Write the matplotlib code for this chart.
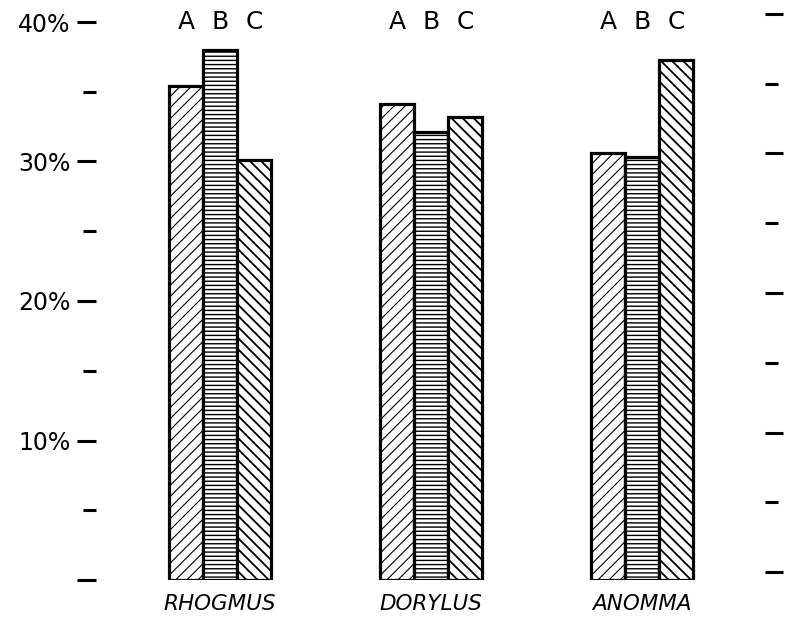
import matplotlib.pyplot as plt
from matplotlib.ticker import MultipleLocator, FixedFormatter, FixedLocator

genera = ['RHOGMUS', 'DORYLUS', 'ANOMMA']
castes = ['A', 'B', 'C']
values_a = [35.4, 34.1, 30.6]
values_b = [38.0, 32.1, 30.3]
values_c = [30.1, 33.2, 37.3]
major_ticks = [0, 10, 20, 30, 40]
major_labels = ['', '10%', '20%', '30%', '40%']

plt.rcParams['font.family'] = 'DejaVu Sans'

W, H = 786, 619
fig = plt.figure(figsize=(W / 100, H / 100), dpi=100)
left, right, bottom, top = 96, 765, 580, 22
ax = fig.add_axes([left / W, (H - bottom) / H, (right - left) / W, (bottom - top) / H])

width = 0.161
xs = list(range(len(genera)))
series = [values_a, values_b, values_c]
hatches = ['///', '----', '\\\\\\']
hatch_lw = [0.8, 1.0, 1.3]
for i, (vals, hatch) in enumerate(zip(series, hatches)):
    pos = [x + (i - 1) * width for x in xs]
    with plt.rc_context({'hatch.linewidth': hatch_lw[i]}):
        ax.bar(pos, vals, width=width, facecolor='white', edgecolor='black',
               linewidth=2.3, hatch=hatch, zorder=2)
    for x in pos:
        ax.text(x, 40, castes[i], ha='center', va='center', fontsize=18,
                clip_on=False)

ax.set_xlim(-0.588, 2.583)
ax.set_ylim(0, 40)
for s in ax.spines.values():
    s.set_visible(False)

ax.yaxis.set_major_locator(FixedLocator(major_ticks))
ax.yaxis.set_major_formatter(FixedFormatter(major_labels))
ax.yaxis.set_minor_locator(MultipleLocator(5))
ax.tick_params(axis='y', which='major', length=13.5, width=2.2, pad=5,
               labelsize=17, direction='out')
ax.tick_params(axis='y', which='minor', length=9.5, width=2.2, direction='out')
ax.set_xticks(xs)
ax.set_xticklabels(genera, fontsize=15.5, style='italic')
ax.tick_params(axis='x', length=0, pad=10)

# right-hand scale, drawn slightly higher as in the scan
shift = 8
ax2 = fig.add_axes([left / W, (H - bottom + shift) / H, (right - left) / W, (bottom - top) / H])
ax2.set_ylim(0, 40)
ax2.patch.set_visible(False)
for s in ax2.spines.values():
    s.set_visible(False)
ax2.set_xticks([])
ax2.yaxis.tick_right()
ax2.yaxis.set_major_locator(MultipleLocator(10))
ax2.yaxis.set_minor_locator(MultipleLocator(5))
ax2.yaxis.set_major_formatter(FixedFormatter([]))
ax2.tick_params(axis='y', which='major', length=13, width=2.2, direction='out',
                labelright=False)
ax2.tick_params(axis='y', which='minor', length=9, width=2.2, direction='out')

fig.savefig('out.png', dpi=100)
